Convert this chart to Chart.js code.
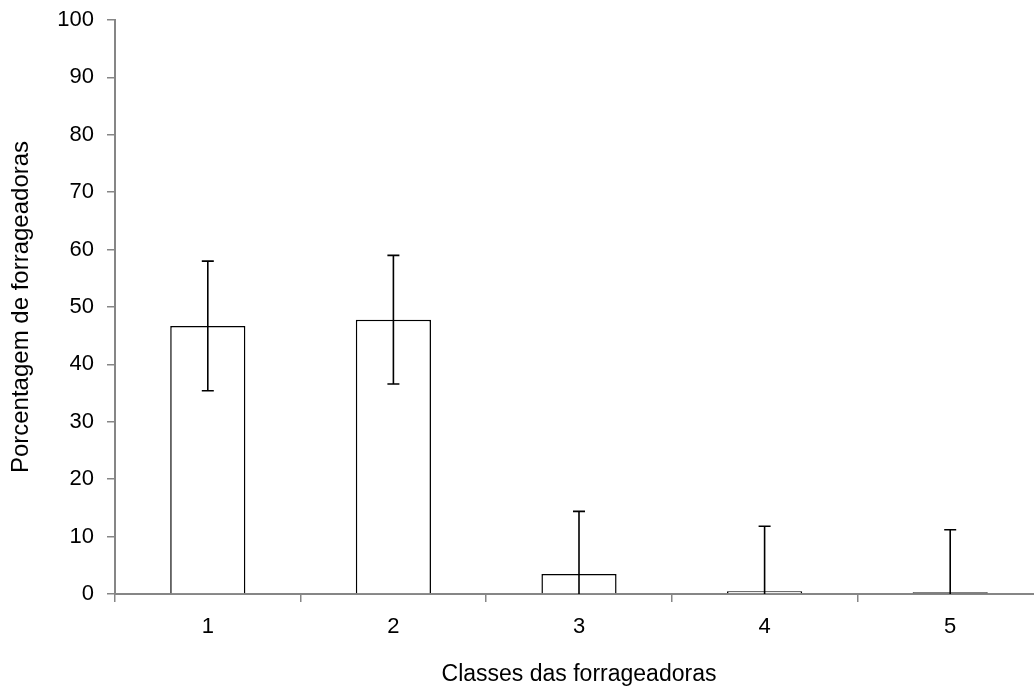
<!DOCTYPE html>
<html>
<head>
<meta charset="utf-8">
<script src="https://cdn.jsdelivr.net/npm/chart.js@4.4.1/dist/chart.umd.min.js"></script>
<style>
  html, body { margin: 0; padding: 0; background: #fff; overflow: hidden; }
  #wrap { width: 1044px; height: 689px; position: relative; }
</style>
</head>
<body>
<div id="wrap"><canvas id="forrChart"></canvas></div>
<script>
// Percentagem de forrageadoras por classe, com desvio
const classes = ['1', '2', '3', '4', '5'];
const porcentagem = [46.7, 47.8, 3.5, 0.5, 0.3];
const desvio = [11.3, 11.2, 10.9, 11.3, 10.9];
const yTicks = [0, 10, 20, 30, 40, 50, 60, 70, 80, 90, 100];

const axisGray = '#868686';

// Barras de erro desenhadas por cima das barras
const errorBars = {
    id: 'errorBars',
    afterDatasetsDraw(chart) {
        const ctx = chart.ctx;
        const meta = chart.getDatasetMeta(0);
        const y = chart.scales.y;
        ctx.save();
        ctx.strokeStyle = '#000';
        ctx.lineWidth = 1.6;
        meta.data.forEach((bar, i) => {
            const hi = porcentagem[i] + desvio[i];
            const lo = Math.max(porcentagem[i] - desvio[i], y.min);
            const yHi = y.getPixelForValue(hi);
            const yLo = y.getPixelForValue(lo);
            ctx.beginPath();
            ctx.moveTo(bar.x, yHi);
            ctx.lineTo(bar.x, yLo);
            ctx.moveTo(bar.x - 6, yHi);
            ctx.lineTo(bar.x + 6, yHi);
            if (lo > y.min) {
                ctx.moveTo(bar.x - 6, yLo);
                ctx.lineTo(bar.x + 6, yLo);
            }
            ctx.stroke();
        });
        ctx.restore();
    }
};

// barras muito baixas ficam só com o contorno preto
const fills = porcentagem.map(v => (v < 0.4 ? '#000000' : '#ffffff'));

const ctx = document.getElementById('forrChart').getContext('2d');
new Chart(ctx, {
    type: 'bar',
    data: {
        labels: classes,
        datasets: [{
            data: porcentagem,
            backgroundColor: fills,
            borderColor: '#000000',
            borderWidth: 1.5,
            barPercentage: 0.405,
            categoryPercentage: 1
        }]
    },
    options: {
        responsive: true,
        maintainAspectRatio: false,
        animation: false,
        layout: { padding: { top: 0, right: 1, left: 0, bottom: 0 } },
        plugins: {
            legend: { display: false },
            tooltip: { enabled: false }
        },
        scales: {
            x: {
                grid: { drawOnChartArea: false, tickLength: 8, color: axisGray, lineWidth: 1.5 },
                border: { color: axisGray, width: 2 },
                ticks: { color: '#000', padding: 12, font: { family: 'Liberation Sans, Arial', size: 22 } },
                title: {
                    display: true,
                    text: 'Classes das forrageadoras',
                    color: '#000',
                    font: { family: 'Liberation Sans, Arial', size: 23 },
                    padding: { top: 0, bottom: 1 }
                },
                afterFit(scale) { scale.height = 95; }
            },
            y: {
                min: 0,
                max: 100,
                afterBuildTicks(scale) { scale.ticks = yTicks.map(v => ({ value: v })); },
                grid: { drawOnChartArea: false, tickLength: 8, color: axisGray, lineWidth: 1.5 },
                border: { color: axisGray, width: 2 },
                ticks: { color: '#000', padding: 13, font: { family: 'Liberation Sans, Arial', size: 22, lineHeight: 0.64 } },
                title: {
                    display: true,
                    text: 'Porcentagem de forrageadoras',
                    color: '#000',
                    font: { family: 'Liberation Sans, Arial', size: 24 },
                    padding: { top: 7, bottom: 0 }
                },
                afterFit(scale) { scale.width = 115; }
            }
        }
    },
    plugins: [errorBars]
});
</script>
</body>
</html>
